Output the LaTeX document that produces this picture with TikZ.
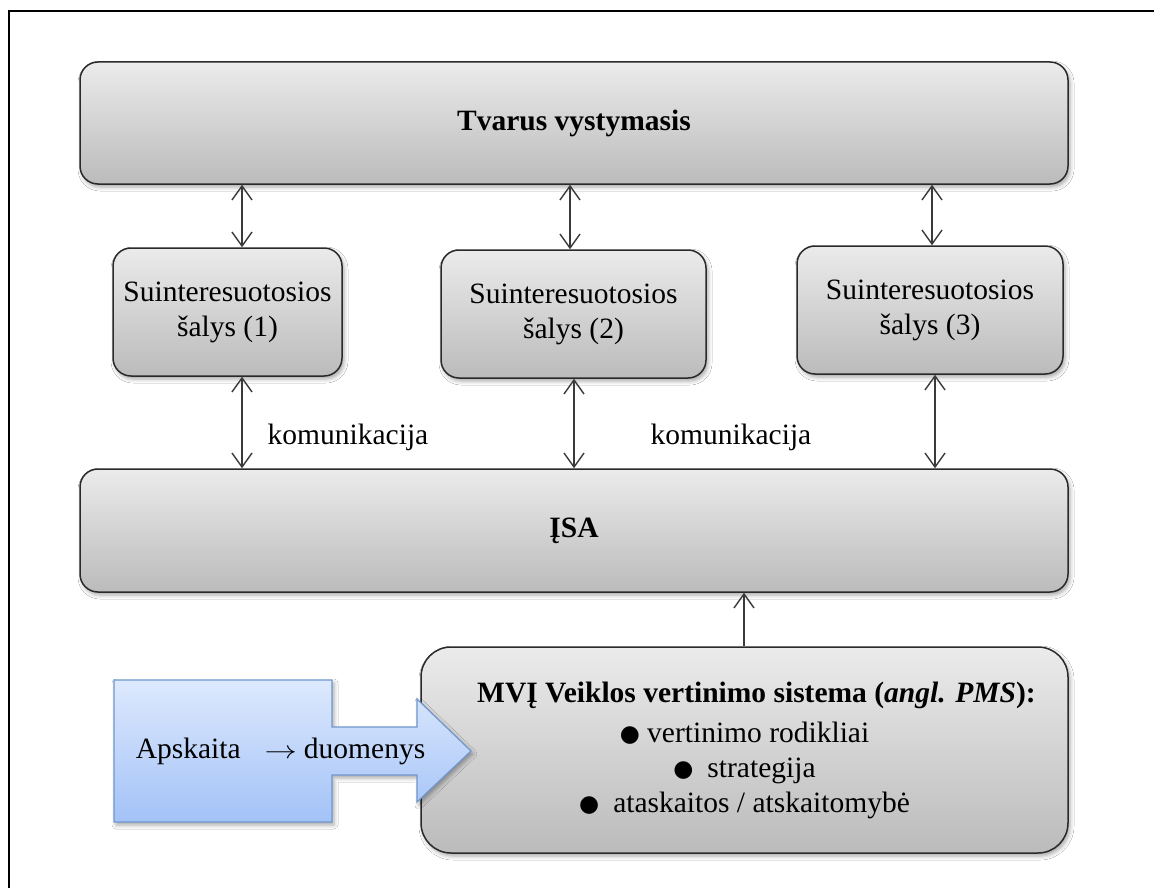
\documentclass[tikz,border=0pt]{standalone}
\usepackage{fontspec}
\setmainfont{Liberation Serif}
\newfontfamily\symfont{DejaVu Sans}
\usetikzlibrary{arrows.meta,shadows.blur}

\definecolor{boxtop}{HTML}{EBEBEB}
\definecolor{boxbot}{HTML}{BBBBBB}
\definecolor{boxline}{HTML}{2A2A2A}
\definecolor{bluetop}{HTML}{DDE9FD}
\definecolor{bluebot}{HTML}{A3C2F7}
\definecolor{blueline}{HTML}{6F97CF}
\definecolor{linkcol}{HTML}{3A3A3A}

\newcommand\bul{\raisebox{1pt}{\symfont\fontsize{23}{23}\selectfont ●}}

\tikzset{
  txt/.style={font=\fontsize{29.5}{35}\selectfont, inner sep=0pt},
  greybox/.style={txt, draw=boxline, line width=1.5pt, rounded corners=18pt,
    top color=boxtop, bottom color=boxbot, align=center,
    blur shadow={shadow xshift=2pt, shadow yshift=-3pt, shadow blur radius=4pt, shadow opacity=35}},
  twoway/.style={draw=linkcol, line width=1.4pt,
    {Straight Barb[length=14pt,width=20pt]}-{Straight Barb[length=14pt,width=20pt]}},
  oneway/.style={draw=linkcol, line width=1.4pt, -{Straight Barb[length=14pt,width=20pt]}},
}

\begin{document}
\begin{tikzpicture}[x=1pt, y=-1pt]
\useasboundingbox (0,0) rectangle (1154,888);
\clip (0,0) rectangle (1154,888);
\fill[white] (0,0) rectangle (1154,888);

% outer frame
\draw[line width=2pt, black] (9,900) -- (9,11) -- (1170,11);

% main boxes
\node[greybox, minimum width=988pt, minimum height=122pt] (top) at (574,123) {\bfseries Tvarus vystymasis};
\node[greybox, minimum width=229pt, minimum height=128pt] (s1) at (227.5,312) {Suinteresuotosios\\šalys (1)};
\node[greybox, minimum width=265pt, minimum height=128pt] (s2) at (573.5,314) {Suinteresuotosios\\šalys (2)};
\node[greybox, minimum width=266pt, minimum height=128pt] (s3) at (930,310) {Suinteresuotosios\\šalys (3)};
\node[greybox, minimum width=988pt, minimum height=123pt] (isa) at (574,530.5) {\bfseries ĮSA};
\node[greybox, rounded corners=30pt, minimum width=647pt, minimum height=206pt] (pms) at (744.5,750)
  {\hspace*{24pt}{\bfseries MVĮ Veiklos vertinimo sistema (\textit{angl. PMS}):}\\[5pt]
   \bul\ vertinimo rodikliai\\
   \bul\hspace{14pt}strategija\\
   \bul\hspace{14pt}ataskaitos / atskaitomybė};

% connector columns
\coordinate (c1) at (242,0);
\coordinate (c2) at (570,0);
\coordinate (c3) at (932,0);
\coordinate (d1) at (242,0);
\coordinate (d2) at (574,0);
\coordinate (d3) at (935,0);

\draw[twoway] (top.south -| c1) -- (s1.north -| c1);
\draw[twoway] (top.south -| c2) -- (s2.north -| c2);
\draw[twoway] (top.south -| c3) -- (s3.north -| c3);
\draw[twoway] (s1.south -| d1) -- (isa.north -| d1);
\draw[twoway] (s2.south -| d2) -- (isa.north -| d2);
\draw[twoway] (s3.south -| d3) -- (isa.north -| d3);
\draw[oneway] (pms.north -| 744,0) -- (isa.south -| 744,0);

\node[txt] (k1) at (348,437) {komunikacija};
\node[txt] (k2) at (731,437) {komunikacija};

% block arrow feeding the evaluation system
\path[draw=blueline, line width=1.2pt, top color=bluetop, bottom color=bluebot,
  blur shadow={shadow xshift=2pt, shadow yshift=-3pt, shadow blur radius=4pt, shadow opacity=35}]
  (114,680) -- (332,680) -- (332,727) -- (417,727) -- (417,699) -- (471,751)
  -- (417,802) -- (417,775) -- (332,775) -- (332,822) -- (114,822) -- cycle;
\node[txt] (feed) at (280.5,751) {Apskaita\hspace{24pt}\scalebox{1.3}[1]{$\rightarrow$}\hspace{7pt}duomenys};
\end{tikzpicture}
\end{document}
